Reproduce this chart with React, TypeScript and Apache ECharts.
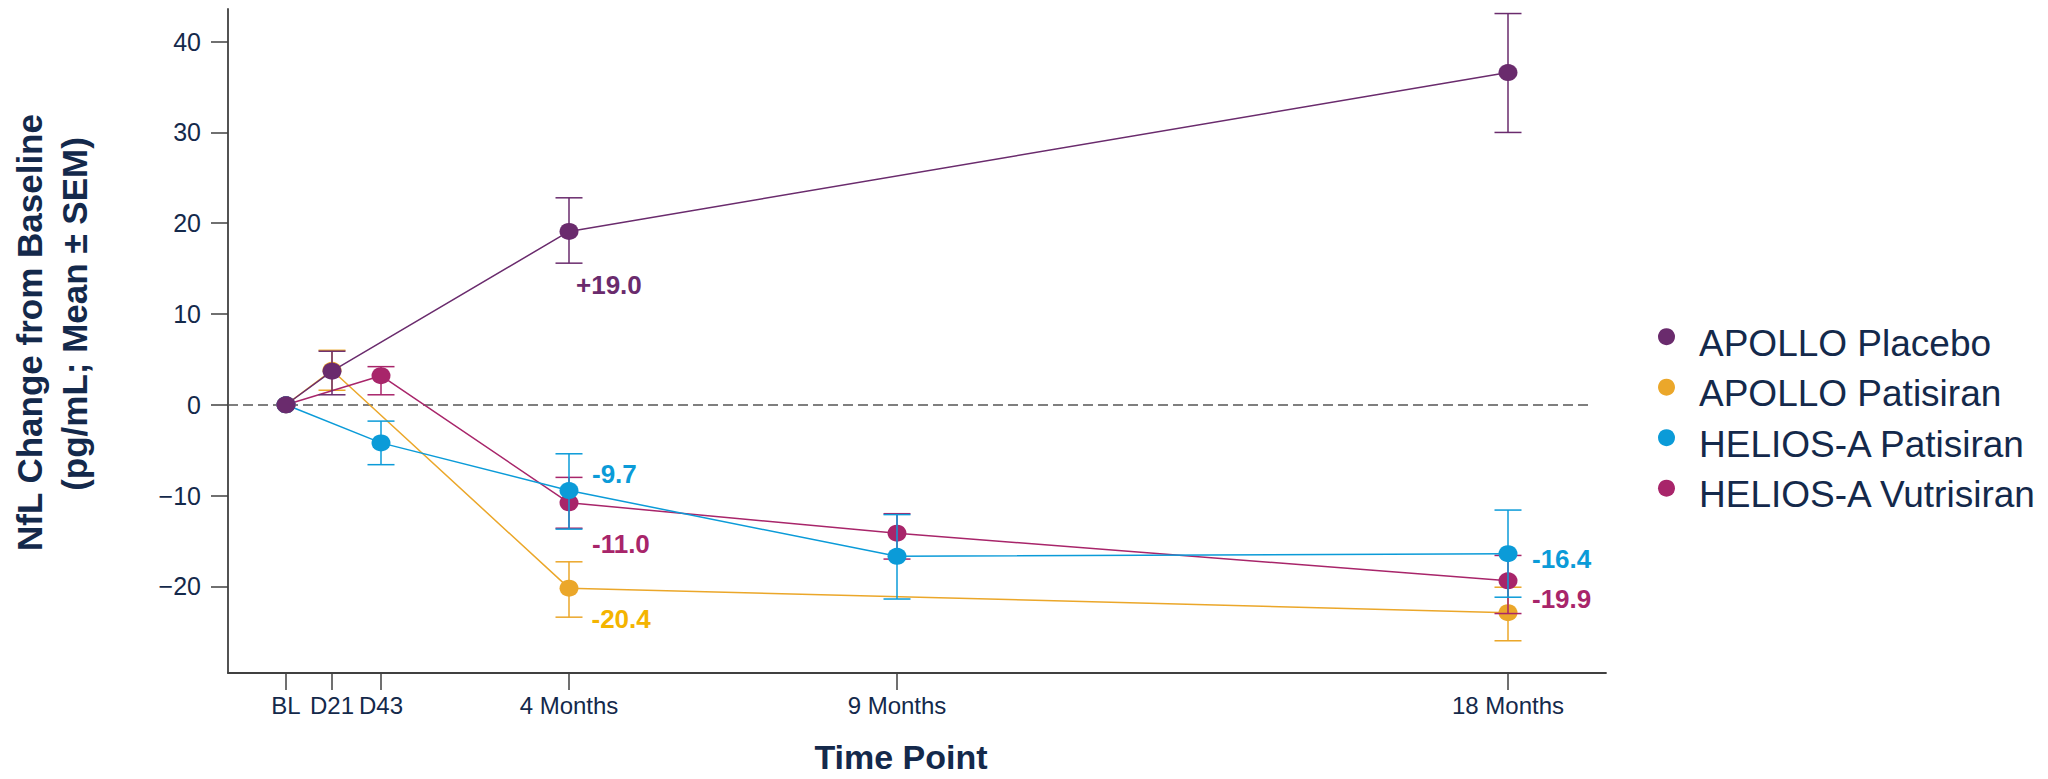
import { useEffect, useRef } from 'react';
import * as echarts from 'echarts';

// ---------- data ----------
const timeLabels = ['BL', 'D21', 'D43', '4 Months', '9 Months', '18 Months'];
// position of each time point along the (non-linear) plotted time axis
const timePositions = [0, 46, 95, 283, 611, 1222];
const yTickValues = [-20, -10, 0, 10, 20, 30, 40];

const seriesNames = ['APOLLO Placebo', 'APOLLO Patisiran', 'HELIOS-A Patisiran', 'HELIOS-A Vutrisiran'];

const placeboMean = [0, 3.7, null, 19.1, null, 36.6];
const placeboLow = [null, 1.1, null, 15.6, null, 30.0];
const placeboHigh = [null, 5.9, null, 22.8, null, 43.1];
const placeboLabels = [null, null, null, '+19.0', null, null];

const apolloPatMean = [0, 3.8, null, -20.2, null, -22.9];
const apolloPatLow = [null, 1.6, null, -23.4, null, -26.0];
const apolloPatHigh = [null, 6.0, null, -17.3, null, -20.1];
const apolloPatLabels = [null, null, null, '-20.4', null, null];

const heliosPatMean = [0, null, -4.2, -9.45, -16.7, -16.4];
const heliosPatLow = [null, null, -6.6, -13.7, -21.4, -21.2];
const heliosPatHigh = [null, null, -1.8, -5.4, -12.1, -11.6];
const heliosPatLabels = [null, null, null, '-9.7', null, '-16.4'];

const vutMean = [0, null, 3.2, -10.8, -14.15, -19.4];
const vutLow = [null, null, 1.1, -13.6, -17.0, -23.0];
const vutHigh = [null, null, 4.2, -8.0, -12.0, -16.6];
const vutLabels = [null, null, null, '-11.0', null, '-19.9'];

// ---------- styles / layout ----------
const FONT = '"Liberation Sans", Arial, Helvetica, sans-serif';
const NAVY = '#14294b';
const AXIS = '#404040';
const X_MIN = -58;
const X_MAX = 1320;
const ZERO_LINE_END = 1304;
const Y_MIN = -29.55;
const Y_MAX = 43.6;

const styleMap: Record<string, { color: string; labelColor: string; offsets: (number[] | null)[] }> = {
  'APOLLO Placebo': { color: '#6a2b6d', labelColor: '#6a2b6d', offsets: [null, null, null, [7, 53.5], null, null] },
  'APOLLO Patisiran': { color: '#eba72a', labelColor: '#f4b400', offsets: [null, null, null, [22.5, 31], null, null] },
  'HELIOS-A Patisiran': { color: '#0b9bd8', labelColor: '#0b9bd8', offsets: [null, null, null, [23, -17], null, [24, 5.7]] },
  'HELIOS-A Vutrisiran': { color: '#a8256a', labelColor: '#a8256a', offsets: [null, null, null, [23, 41.4], null, [24, 17.7]] },
};

const seriesData: Record<string, { mean: (number | null)[]; low: (number | null)[]; high: (number | null)[]; labels: (string | null)[] }> = {
  'APOLLO Placebo': { mean: placeboMean, low: placeboLow, high: placeboHigh, labels: placeboLabels },
  'APOLLO Patisiran': { mean: apolloPatMean, low: apolloPatLow, high: apolloPatHigh, labels: apolloPatLabels },
  'HELIOS-A Patisiran': { mean: heliosPatMean, low: heliosPatLow, high: heliosPatHigh, labels: heliosPatLabels },
  'HELIOS-A Vutrisiran': { mean: vutMean, low: vutLow, high: vutHigh, labels: vutLabels },
};

// drawing order (last on top)
const drawOrder = ['APOLLO Patisiran', 'HELIOS-A Vutrisiran', 'HELIOS-A Patisiran', 'APOLLO Placebo'];

function buildSeries() {
  const out: any[] = [];
  drawOrder.forEach((name, si) => {
    const d = seriesData[name];
    const st = styleMap[name];
    const errData: number[][] = [];
    const lineData: any[] = [];
    timePositions.forEach((x, i) => {
      const m = d.mean[i];
      if (m === null) return;
      const lo = d.low[i];
      const hi = d.high[i];
      if (lo !== null && hi !== null) errData.push([x, lo, hi]);
      const item: any = { value: [x, m] };
      const txt = d.labels[i];
      const off = st.offsets[i];
      if (txt && off) {
        item.label = {
          show: true,
          formatter: txt,
          position: 'inside',
          align: 'left',
          verticalAlign: 'middle',
          offset: off,
          color: st.labelColor,
          fontFamily: FONT,
          fontWeight: 'bold',
          fontSize: 26,
        };
      }
      lineData.push(item);
    });
    out.push({
      name: name + ' SEM',
      type: 'custom',
      z: 2 + si * 2,
      silent: true,
      encode: { x: 0, y: [1, 2] },
      data: errData,
      renderItem: (_params: any, api: any) => {
        const x = api.value(0);
        const a = api.coord([x, api.value(2)]);
        const b = api.coord([x, api.value(1)]);
        const w = 13.5;
        const style = { stroke: st.color, lineWidth: 1.5, fill: 'none' };
        return {
          type: 'group',
          children: [
            { type: 'line', shape: { x1: a[0], y1: a[1], x2: b[0], y2: b[1] }, style },
            { type: 'line', shape: { x1: a[0] - w, y1: a[1], x2: a[0] + w, y2: a[1] }, style },
            { type: 'line', shape: { x1: b[0] - w, y1: b[1], x2: b[0] + w, y2: b[1] }, style },
          ],
        };
      },
    });
    const lineSeries: any = {
      name,
      type: 'line',
      z: 3 + si * 2,
      data: lineData,
      symbol: 'circle',
      symbolSize: [19, 17],
      showAllSymbol: true,
      itemStyle: { color: st.color },
      lineStyle: { color: st.color, width: 1.5 },
      label: { show: false },
    };
    if (si === 0) {
      lineSeries.markLine = {
        silent: true,
        symbol: 'none',
        label: { show: false },
        lineStyle: { color: '#555555', width: 1.5, type: [10, 5] },
        data: [[{ coord: [X_MIN, 0] }, { coord: [ZERO_LINE_END, 0] }]],
        z: 1,
      };
    }
    out.push(lineSeries);
  });
  return out;
}

export default function App() {
  const ref = useRef<HTMLDivElement>(null);
  useEffect(() => {
    document.body.style.margin = '0';
    const chart = echarts.init(ref.current!, null, { renderer: 'svg' });
    const option: any = {
      animation: false,
      backgroundColor: '#ffffff',
      textStyle: { fontFamily: FONT },
      grid: { left: 228, right: 2048 - 1606, top: 9, bottom: 779 - 681.6, containLabel: false },
      xAxis: {
        type: 'value',
        min: X_MIN,
        max: X_MAX,
        axisLine: { onZero: false, lineStyle: { color: AXIS, width: 1.8 } },
        axisTick: { show: true, length: 17, lineStyle: { color: AXIS, width: 1.5 }, customValues: timePositions },
        axisLabel: {
          customValues: timePositions,
          margin: 20,
          fontSize: 24,
          color: NAVY,
          fontFamily: FONT,
          formatter: (v: number) => {
            const i = timePositions.indexOf(v);
            return i >= 0 ? timeLabels[i] : '';
          },
        },
        splitLine: { show: false },
        name: 'Time Point',
        nameLocation: 'middle',
        nameGap: 67,
        nameTextStyle: { fontSize: 34, fontWeight: 'bold', color: NAVY, fontFamily: FONT, padding: [0, 32, 0, 0] },
      },
      yAxis: {
        type: 'value',
        min: Y_MIN,
        max: Y_MAX,
        axisLine: { show: true, onZero: false, lineStyle: { color: AXIS, width: 1.8 } },
        axisTick: { show: true, length: 17, lineStyle: { color: AXIS, width: 1.5 }, customValues: yTickValues },
        axisLabel: {
          customValues: yTickValues,
          margin: 27,
          fontSize: 25,
          color: NAVY,
          fontFamily: FONT,
          formatter: (v: number) => (v < 0 ? '\u2212' + Math.abs(v) : String(v)),
        },
        splitLine: { show: false },
      },
      legend: {
        orient: 'vertical',
        left: 1653,
        top: 306.7,
        icon: 'circle',
        itemWidth: 19,
        itemHeight: 17,
        itemGap: 0.5,
        selectedMode: false,
        data: seriesNames,
        formatter: (name: string) => '{t|' + name + '}',
        textStyle: {
          fontSize: 37,
          color: NAVY,
          fontFamily: FONT,
          rich: {
            t: { fontSize: 37, color: NAVY, fontFamily: FONT, padding: [13, 0, 0, 18], lineHeight: 37 },
          },
        },
      },
      graphic: [
        {
          type: 'text',
          x: 29.2,
          y: 332.5,
          rotation: Math.PI / 2,
          style: {
            text: 'NfL Change from Baseline',
            font: 'bold 35px ' + FONT,
            fill: NAVY,
            align: 'center',
            verticalAlign: 'middle',
          },
        },
        {
          type: 'text',
          x: 74.8,
          y: 314,
          rotation: Math.PI / 2,
          style: {
            text: '(pg/mL; Mean \u00b1 SEM)',
            font: 'bold 35px ' + FONT,
            fill: NAVY,
            align: 'center',
            verticalAlign: 'middle',
          },
        },
      ],
      series: buildSeries(),
    };
    chart.setOption(option);
    return () => chart.dispose();
  }, []);
  return <div ref={ref} style={{ width: 2048, height: 779 }} />;
}
